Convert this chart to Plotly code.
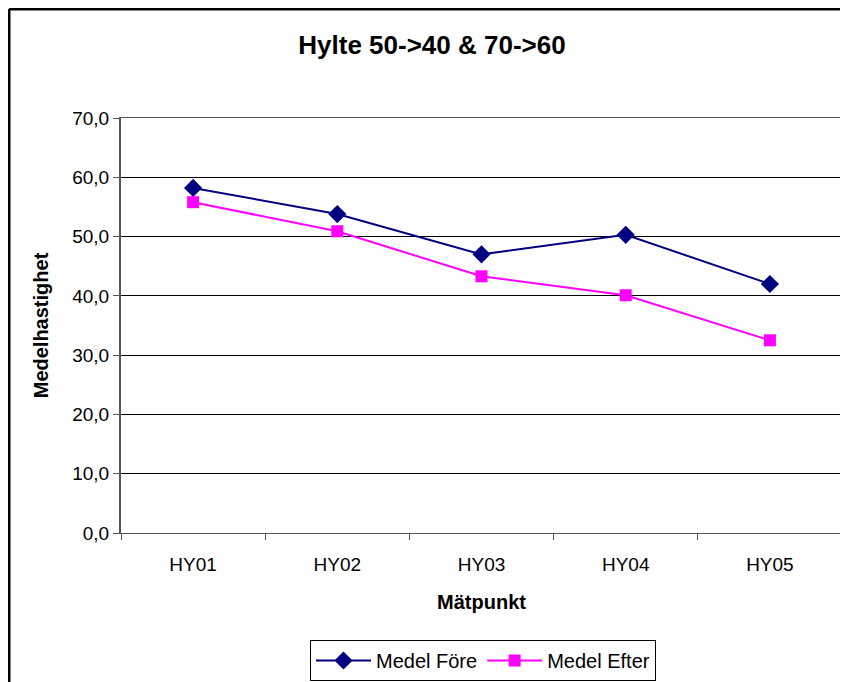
import plotly.graph_objects as go

categories = ["HY01", "HY02", "HY03", "HY04", "HY05"]
medel_fore = [58.2, 53.8, 47.0, 50.3, 42.0]
medel_efter = [55.8, 50.9, 43.3, 40.1, 32.5]

W, H = 848, 682
L, R, T, B = 113, 14, 110, 157
pw, ph = W - L - R, H - T - B

fig = go.Figure()
fig.add_trace(go.Scatter(x=categories, y=medel_fore, mode="lines+markers", name="Medel Före",
                         line=dict(color="#000080", width=2),
                         marker=dict(symbol="diamond", size=14, color="#000080")))
fig.add_trace(go.Scatter(x=categories, y=medel_efter, mode="lines+markers", name="Medel Efter",
                         line=dict(color="#FF00FF", width=2),
                         marker=dict(symbol="square", size=12, color="#FF00FF")))

fig.update_layout(
    width=W, height=H,
    margin=dict(l=L, r=R, t=T, b=B),
    paper_bgcolor="white", plot_bgcolor="white",
    font=dict(family="Liberation Sans, Arial, sans-serif", size=19, color="black"),
    separators=", ",
    title=dict(text="<b>Hylte 50->40 & 70->60</b>", x=424 / W, xanchor="center",
               y=1 - 37 / H, yanchor="middle", font=dict(size=26)),
    legend=dict(orientation="h", xref="container", yref="container",
                x=475 / W, xanchor="center", y=1 - 632 / H, yanchor="top",
                bordercolor="black", borderwidth=1, font=dict(size=20),
                itemwidth=55, tracegroupgap=0),
    showlegend=True,
)
fig.update_xaxes(range=[-0.5, len(categories) - 0.5],
                 showline=True, linecolor="#555555", linewidth=1, mirror=True,
                 ticks="outside", ticklen=6, tickcolor="#555555", tickson="boundaries",
                 showgrid=False, tickfont=dict(size=19), ticklabelstandoff=14,
                 title=dict(text="<b>Mätpunkt</b>", standoff=21, font=dict(size=20)))
fig.update_yaxes(range=[0, 70], dtick=10, tickformat=".1f",
                 showline=True, linecolor="#555555", linewidth=2, mirror=True,
                 ticks="outside", ticklen=6, tickcolor="#555555",
                 showgrid=True, gridcolor="black", gridwidth=1, tickfont=dict(size=19),
                 title=dict(text="<b>Medelhastighet</b>", standoff=18, font=dict(size=20)))

# outer chart border (left and top edges only, the rest is cut off)
fig.add_shape(type="line", xref="paper", yref="paper",
              x0=(1 - L) / pw, x1=(1 - L) / pw, y0=(ph + T - H - 20) / ph, y1=(ph + T - 1) / ph,
              line=dict(color="black", width=3))
fig.add_shape(type="line", xref="paper", yref="paper",
              x0=(1 - L) / pw, x1=(W + 20 - L) / pw, y0=(ph + T - 1) / ph, y1=(ph + T - 1) / ph,
              line=dict(color="black", width=3))

fig.write_html("out.html")
